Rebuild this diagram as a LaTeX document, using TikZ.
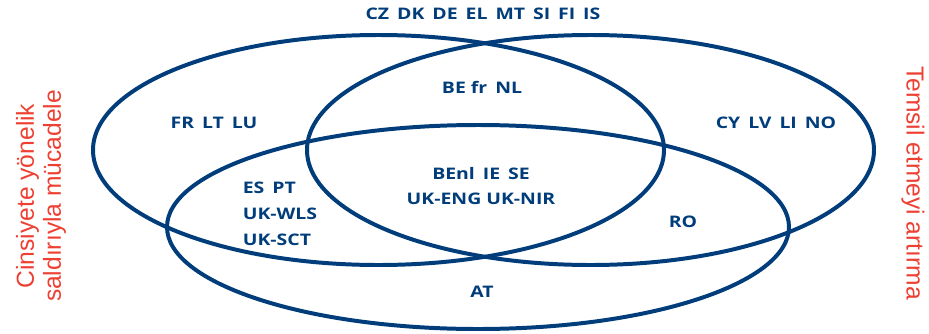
\documentclass[tikz,border=0pt]{standalone}
\usepackage{fontspec}
\newfontfamily\codefont[FakeStretch=1.22]{Open Sans}
\newfontfamily\notefont{Liberation Sans}
\definecolor{setblue}{RGB}{0,61,122}
\definecolor{notered}{RGB}{238,64,50}
\newcommand{\gap}{\hspace{0.5em}}

\begin{document}
\begin{tikzpicture}[x=0.03cm,y=-0.03cm]
  \useasboundingbox (0,0) rectangle (929,333);

  % the three sets
  \begin{scope}[setblue, line width=3.4pt]
    \draw (378.5,150) ellipse [x radius=285.5, y radius=115];
    \draw (590.5,150) ellipse [x radius=283.5, y radius=115];
    \draw (478,227) ellipse [x radius=311, y radius=102];
  \end{scope}

  \begin{scope}[every node/.style={text=setblue,inner sep=0pt,
      font=\codefont\bfseries\fontsize{13.6}{22}\selectfont}]
    \node (none) at (483,14) {CZ\gap DK\gap DE\gap EL\gap MT\gap SI\gap FI\gap IS};
    \node (befr) at (482,87) {BE fr\gap NL};
    \node (frltlu) at (214,123) {FR\gap LT\gap LU};
    \node (cylvli) at (776,123) {CY\gap LV\gap LI\gap NO};
    \node[align=center] (core) at (481,186) {BEnl\gap IE\gap SE\\UK-ENG UK-NIR};
    \node[align=left] (espt) at (280,214) {ES\gap PT\\UK-WLS\\UK-SCT};
    \node (ro) at (683,222) {RO};
    \node (at) at (482,292) {AT};
  \end{scope}

  \begin{scope}[every node/.style={text=notered,align=center,
      font=\notefont\fontsize{21}{23}\selectfont}]
    \node[rotate=90] (violence) at (41,196) {Cinsiyete yönelik\\saldırıyla mücadele};
    \node[rotate=-90] (repres) at (913,183) {Temsil etmeyi artırma};
  \end{scope}
\end{tikzpicture}
\end{document}
